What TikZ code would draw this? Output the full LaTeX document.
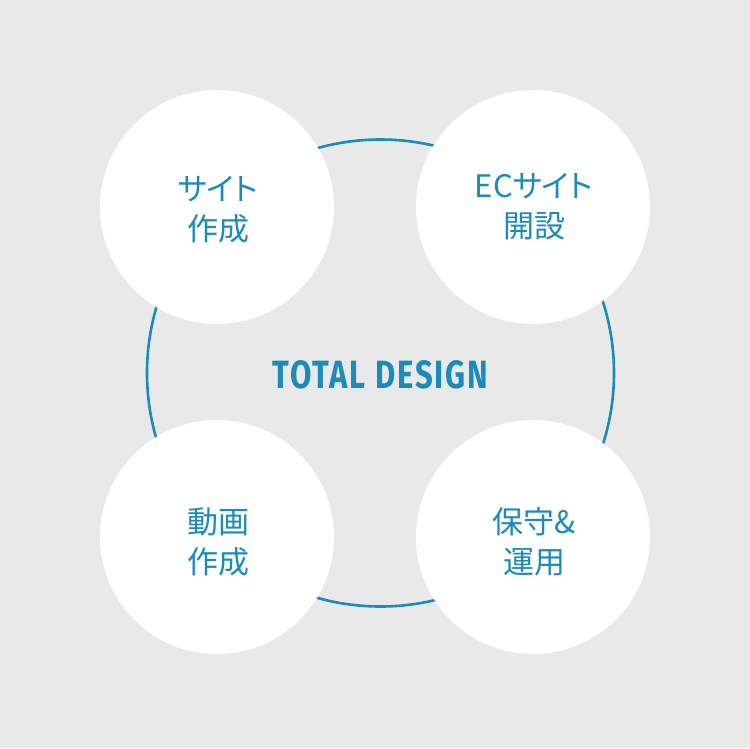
\documentclass[tikz,border=0pt]{standalone}
\usepackage{fontspec}
\usepackage{graphicx}
\newfontfamily\jpfont[RawFeature=+palt]{Noto Sans CJK JP}
\newfontfamily\titlefont[LetterSpace=6]{Fira Sans}
\definecolor{bg}{HTML}{E9E9E9}
\definecolor{blu}{HTML}{1A8BBB}
\begin{document}
\begin{tikzpicture}[x=1pt,y=-1pt,
  bubble/.style={circle,fill=white,minimum size=234pt,inner sep=0pt},
  lbl/.style={text=blu,font=\jpfont\fontsize{31}{40}\selectfont,align=center}]
\fill[bg] (0,0) rectangle (750,748);
\useasboundingbox (0,0) rectangle (750,748);
\node[circle,draw=blu,line width=2.6pt,minimum size=467pt,inner sep=0pt] (ring) at (380.5,373) {};
\node[bubble] (c1) at (217,207) {};
\node[bubble] (c2) at (533,207) {};
\node[bubble] (c3) at (217,537) {};
\node[bubble] (c4) at (533,537) {};
\node[lbl] (t1) at (218,210) {サイト\\作成};
\node[lbl] (t2) at (534,207) {ECサイト\\開設};
\node[lbl] (t3) at (218,542) {動画\\作成};
\node[lbl] (t4) at (534,542) {保守\&\\運用};
\node[text=blu,inner sep=0pt] (title) at (380.5,375) {\resizebox{215pt}{28pt}{\titlefont\bfseries TOTAL DESIGN}};
\end{tikzpicture}
\end{document}
